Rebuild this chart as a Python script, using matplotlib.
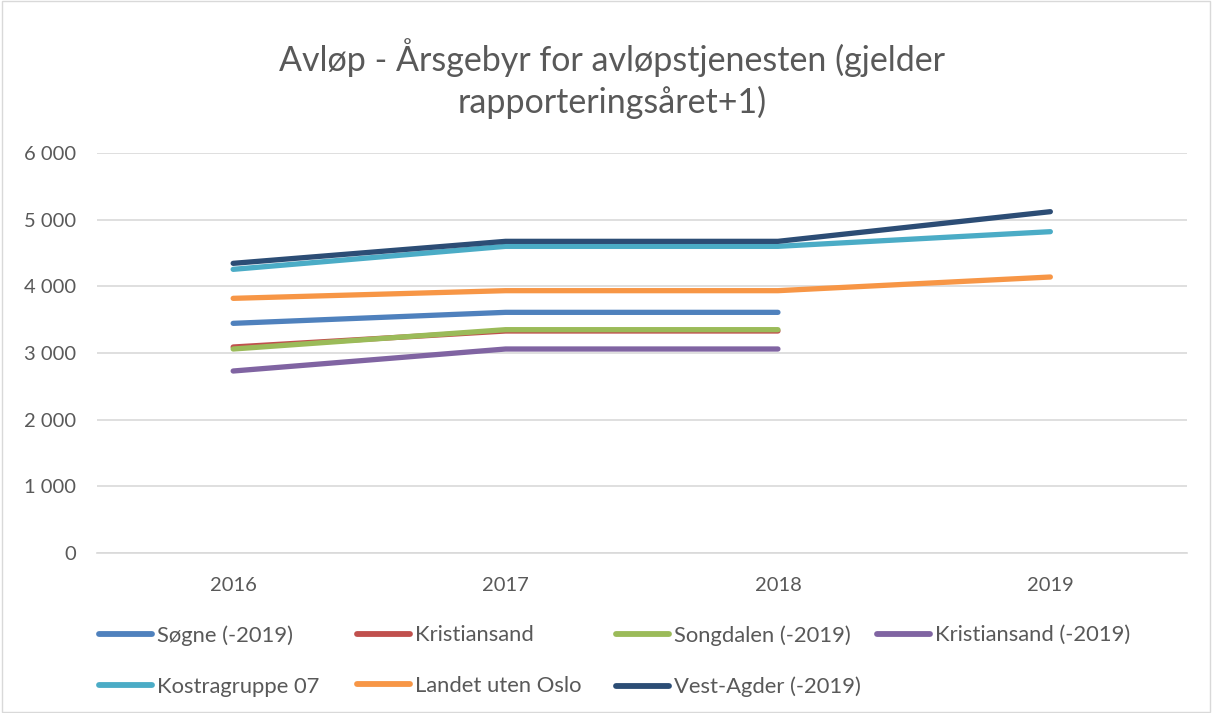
import matplotlib.pyplot as plt
from matplotlib.patches import Rectangle

years = ["2016", "2017", "2018", "2019"]

sogne = [3445, 3610, 3610]
kristiansand = [3090, 3330, 3330]
songdalen = [3060, 3350, 3350]
kristiansand_old = [2730, 3060, 3060]
kostragruppe = [4255, 4600, 4600, 4820]
landet = [3820, 3935, 3935, 4140]
vest_agder = [4345, 4675, 4675, 5120]

series = [
    ("Søgne (-2019)", sogne, "#4F81BD"),
    ("Kristiansand", kristiansand, "#C0504D"),
    ("Songdalen (-2019)", songdalen, "#9BBB59"),
    ("Kristiansand (-2019)", kristiansand_old, "#8064A2"),
    ("Kostragruppe 07", kostragruppe, "#4BACC6"),
    ("Landet uten Oslo", landet, "#F79646"),
    ("Vest-Agder (-2019)", vest_agder, "#2C4D75"),
]

plt.rcParams['font.family'] = ['Lato', 'DejaVu Sans']

fig = plt.figure(figsize=(12.12, 7.13), dpi=100)
ax = fig.add_axes([0.080, 0.2244, 0.899, 0.561])

handles = []
for name, vals, color in series:
    h, = ax.plot(range(len(vals)), vals, color=color, lw=3.8,
                 solid_capstyle='round', label=name)
    handles.append(h)

ax.set_xlim(-0.5, 3.5)
ax.set_ylim(0, 6000)
ax.set_yticks(range(0, 6001, 1000))
ax.set_yticklabels(["0", "1 000", "2 000", "3 000", "4 000", "5 000", "6 000"])
ax.set_xticks(range(len(years)))
ax.set_xticklabels(years)
ax.grid(axis='y', color='#D9D9D9', lw=1.2)
ax.set_axisbelow(True)
for s in ['top', 'right', 'left']:
    ax.spines[s].set_visible(False)
ax.spines['bottom'].set_color('#D9D9D9')
ax.spines['bottom'].set_linewidth(1.2)
ax.tick_params(length=0, labelsize=14.5, colors='#595959', pad=17)
ax.tick_params(axis='y', pad=15)

fig.text(0.505, 0.89, "Avløp - Årsgebyr for avløpstjenesten (gjelder\nrapporteringsåret+1)",
         ha='center', va='center', fontsize=24.5, color='#595959', linespacing=1.3)

# legend laid out in fixed columns, row-wise like the original
columns = [[0, 4], [1, 5], [2, 6], [3]]
col_x = [99, 357, 616, 877]
for idx, x in zip(columns, col_x):
    leg = fig.legend([handles[i] for i in idx], [series[i][0] for i in idx],
                     loc='upper left', bbox_to_anchor=(x / 1212, 0.123),
                     frameon=False, fontsize=15.8, labelcolor='#595959',
                     handlelength=2.4, handletextpad=0.25,
                     labelspacing=1.4, borderaxespad=0, borderpad=0)
    for ln in leg.get_lines():
        ln.set_linewidth(4.2)

fig.patches.append(Rectangle((0.002, 0.002), 0.996, 0.996, transform=fig.transFigure,
                             fill=False, edgecolor='#D9D9D9', lw=1))

fig.savefig("out.png", dpi=100)
